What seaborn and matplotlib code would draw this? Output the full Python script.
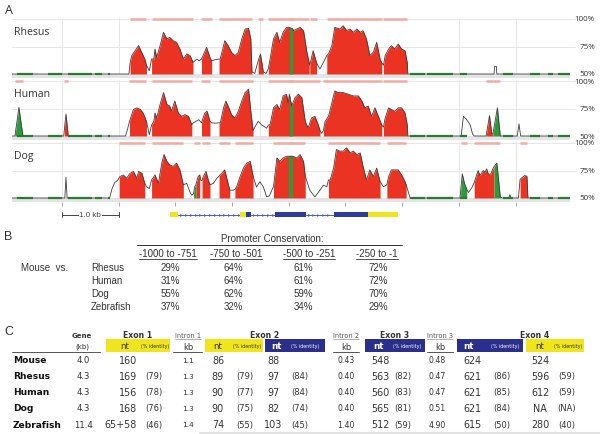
import numpy as np
import pandas as pd
import matplotlib
matplotlib.use("Agg")
import matplotlib.pyplot as plt
from matplotlib.patches import Rectangle
import seaborn as sns

sns.set_theme(style="white")
plt.rcParams['font.family'] = ['Open Sans', 'DejaVu Sans']

# ======================= DATA =======================
# Panel A: VISTA conservation profiles (position in kb, % identity)
species_a = ["Rhesus", "Human", "Dog"]

rhesus_profile = [
    (0.12, 50), (2.18, 50), (2.20, 60), (2.23, 66.7), (2.35, 75.8), (2.46, 63.6), (2.49, 58), (2.54, 53),
    (2.58, 63.6), (2.62, 63.6), (2.64, 72.7), (2.67, 65.2), (2.73, 75.8), (2.79, 87.9), (2.85, 81.8),
    (2.90, 83.3), (2.96, 80.3), (3.02, 78.8), (3.08, 72.7), (3.14, 63.6), (3.20, 68.2), (3.26, 66.7),
    (3.31, 60.6), (3.38, 63.6), (3.42, 62), (3.46, 63.6), (3.55, 74.2), (3.62, 63.6), (3.64, 62), (3.70, 63),
    (3.77, 63.6), (3.79, 63.6), (3.85, 75.8), (3.87, 80.3), (3.93, 75.8), (3.99, 69.7), (4.05, 66.7),
    (4.11, 69.7), (4.17, 81.8), (4.23, 90.9), (4.29, 91.5), (4.33, 81.8), (4.35, 52), (4.40, 50.5),
    (4.46, 62), (4.50, 68.2), (4.55, 52), (4.60, 50.5), (4.64, 55), (4.67, 63.6), (4.73, 81.8), (4.79, 87.9),
    (4.84, 78.8), (4.90, 87.9), (4.96, 92.4), (5.01, 92.4), (5.07, 91), (5.08, 89.4), (5.14, 90.9),
    (5.20, 92.4), (5.26, 89.4), (5.32, 69.7), (5.36, 60), (5.37, 58), (5.43, 71.2), (5.49, 60), (5.55, 54.5),
    (5.64, 63.6), (5.67, 66.7), (5.70, 68.2), (5.76, 75.8), (5.81, 92.4), (5.90, 90.9), (5.96, 93.9),
    (6.02, 89.4), (6.08, 90.9), (6.14, 87.9), (6.20, 90.9), (6.26, 87.9), (6.31, 89.4), (6.37, 81.8),
    (6.43, 66.7), (6.49, 69.7), (6.55, 78.8), (6.61, 63.6), (6.64, 60), (6.67, 58), (6.70, 66.7),
    (6.76, 72.7), (6.81, 75.8), (6.87, 72.7), (6.93, 77.3), (6.99, 72.7), (7.05, 71.2), (7.09, 60),
    (7.10, 50), (8.62, 50), (8.63, 57), (8.66, 57), (8.67, 50), (9.96, 50)]
rhesus_red = [(2.20, 2.49), (2.58, 3.31), (3.46, 3.64), (3.77, 4.35), (4.46, 4.55), (4.64, 5.36),
              (5.37, 5.49), (5.67, 6.64), (6.67, 7.09)]
rhesus_green = [(5.01, 5.07)]

human_profile = [
    (0.12, 50), (0.17, 50), (0.24, 76), (0.31, 50), (1.03, 50), (1.07, 70), (1.11, 50), (2.12, 50),
    (2.16, 57), (2.19, 63.3), (2.26, 74.1), (2.32, 75.6), (2.38, 74.1), (2.43, 71), (2.49, 63.3), (2.54, 51),
    (2.58, 60), (2.62, 63.3), (2.64, 71), (2.67, 66.4), (2.73, 78.7), (2.79, 89.5), (2.85, 78.7),
    (2.90, 77.2), (2.93, 72.5), (2.99, 81.8), (3.05, 71), (3.11, 67.9), (3.17, 69.4), (3.23, 67.9),
    (3.29, 60.2), (3.31, 61.7), (3.41, 64.8), (3.46, 62), (3.52, 71), (3.56, 72.5), (3.61, 63.3), (3.64, 62),
    (3.70, 61.7), (3.77, 62), (3.79, 61.7), (3.85, 75.6), (3.89, 81.8), (3.93, 77.2), (3.99, 69.4),
    (4.05, 66.4), (4.11, 72.5), (4.17, 81.8), (4.23, 89.5), (4.29, 92.6), (4.33, 72.5), (4.37, 55),
    (4.40, 58), (4.46, 63.3), (4.52, 60.2), (4.61, 57.1), (4.64, 60), (4.67, 60.2), (4.73, 75.6),
    (4.79, 78.7), (4.84, 74.1), (4.90, 86.4), (4.96, 88), (4.99, 80.2), (5.01, 88), (5.05, 77.2),
    (5.11, 84.9), (5.17, 88), (5.23, 84.9), (5.29, 63.3), (5.34, 57.1), (5.40, 66.4), (5.46, 67.9),
    (5.52, 60.2), (5.55, 55), (5.58, 52.5), (5.61, 55), (5.64, 63.3), (5.70, 67.9), (5.76, 80.2),
    (5.81, 91), (5.87, 89.5), (5.96, 89.5), (6.05, 88), (6.14, 86.4), (6.23, 86.4), (6.29, 81.8),
    (6.34, 75.6), (6.40, 77.2), (6.46, 67.9), (6.52, 75.6), (6.58, 67.9), (6.64, 60), (6.67, 58),
    (6.70, 66.4), (6.76, 75.6), (6.81, 74.1), (6.87, 72.5), (6.93, 75.6), (6.99, 75.6), (7.05, 71),
    (7.09, 60), (7.10, 50), (8.04, 50), (8.08, 67.9), (8.14, 64.8), (8.20, 60), (8.24, 52), (8.27, 50),
    (8.48, 50), (8.54, 68.5), (8.58, 52), (8.60, 52), (8.68, 75.6), (8.73, 50), (9.03, 50), (9.06, 61),
    (9.09, 50), (9.96, 50)]
human_red = [(1.04, 1.11), (2.19, 2.49), (2.58, 3.29), (3.46, 3.61), (3.77, 4.37), (4.64, 5.55),
             (5.61, 6.64), (6.67, 7.09), (8.48, 8.60)]
human_green = [(0.17, 0.31), (5.01, 5.07), (8.60, 8.73)]

dog_profile = [
    (0.12, 50), (1.05, 50), (1.07, 69), (1.09, 50), (1.84, 50), (1.88, 58), (1.93, 64), (1.98, 66),
    (2.02, 69.4), (2.08, 71), (2.14, 67.9), (2.20, 72.5), (2.26, 74.1), (2.32, 67.9), (2.35, 74.1),
    (2.41, 72.5), (2.46, 63.3), (2.49, 60.2), (2.54, 58.6), (2.58, 66.4), (2.64, 71), (2.70, 63.3),
    (2.76, 81.8), (2.80, 89.5), (2.85, 83.3), (2.90, 80.2), (2.96, 78.7), (3.02, 81.8), (3.08, 75.6),
    (3.14, 62), (3.20, 63.3), (3.26, 55), (3.29, 52.5), (3.32, 54), (3.34, 60.2), (3.36, 62), (3.40, 69.4),
    (3.43, 71), (3.45, 66), (3.47, 66), (3.49, 69.4), (3.54, 74.1), (3.58, 66.4), (3.61, 62), (3.67, 63.3),
    (3.73, 67.9), (3.77, 70), (3.82, 72.5), (3.87, 75.6), (3.93, 63.3), (3.96, 57.1), (4.02, 57.1),
    (4.05, 58), (4.08, 60.2), (4.14, 69.4), (4.20, 77.2), (4.26, 81.8), (4.32, 83.3), (4.37, 70),
    (4.43, 60), (4.49, 64.8), (4.55, 60.2), (4.61, 51), (4.66, 52), (4.70, 57), (4.73, 60.2), (4.79, 86.4),
    (4.84, 83.3), (4.90, 86.4), (4.96, 88), (5.01, 88), (5.07, 88), (5.14, 86.4), (5.20, 89.5),
    (5.26, 83.3), (5.29, 70), (5.37, 57.1), (5.46, 51), (5.55, 57.1), (5.61, 61.7), (5.67, 60.2),
    (5.70, 66.4), (5.73, 66.4), (5.79, 77.2), (5.84, 94.1), (5.90, 92.6), (5.96, 92.6), (6.02, 95.7),
    (6.08, 91), (6.14, 92.6), (6.20, 89.5), (6.26, 91), (6.31, 78.7), (6.37, 66.4), (6.43, 75.6),
    (6.49, 69.4), (6.55, 77.2), (6.61, 65), (6.67, 60.2), (6.73, 62), (6.76, 69.4), (6.81, 75.6),
    (6.87, 75.6), (6.93, 75.6), (6.99, 71), (7.05, 64.8), (7.07, 62), (7.14, 50), (8.02, 50), (8.06, 72),
    (8.10, 63), (8.14, 58), (8.17, 55), (8.23, 59.5), (8.27, 64), (8.28, 65.7), (8.34, 75), (8.37, 70.4),
    (8.43, 75), (8.46, 73.5), (8.49, 76.5), (8.52, 71.6), (8.56, 71.6), (8.61, 77.8), (8.67, 81.8),
    (8.73, 51), (8.76, 50), (8.88, 50), (8.90, 53), (8.92, 50), (9.05, 50), (9.08, 67), (9.12, 68.8),
    (9.16, 70.4), (9.20, 69.8), (9.21, 60), (9.22, 50), (9.96, 50)]
dog_red = [(2.01, 2.46), (2.58, 3.14), (3.36, 3.43), (3.47, 3.61), (3.77, 3.96), (4.05, 4.37),
           (4.73, 5.29), (5.70, 6.61), (6.73, 7.07), (8.27, 8.62), (9.08, 9.21)]
dog_green = [(3.32, 3.36), (5.01, 5.07), (8.03, 8.14), (8.62, 8.73)]

# low-identity exon segments shown on the 50% baseline
baseline_segments = [(0.21, 0.49), (0.75, 1.00), (1.11, 1.53), (1.58, 1.71), (1.81, 1.85),
                     (7.14, 7.40), (7.44, 7.90), (8.02, 8.14), (8.78, 8.95), (9.25, 9.43),
                     (9.57, 9.66), (9.75, 9.96)]

# gene model (kb)
utr_blocks = [(2.90, 3.05), (4.14, 4.24), (6.40, 6.93)]
cds_blocks = [(4.24, 4.33), (4.76, 5.30), (5.79, 6.40)]
intron_spans = [(3.05, 4.14), (4.33, 4.76), (5.30, 5.79)]

# Panel B: promoter conservation
promoter_bins = ["-1000 to -751", "-750 to -501", "-500 to -251", "-250 to -1"]
species_b = ["Rhesus", "Human", "Dog", "Zebrafish"]
rhesus_b = [29, 64, 61, 72]
human_b = [31, 64, 61, 72]
dog_b = [55, 62, 59, 70]
zebrafish_b = [37, 32, 34, 29]

# Panel C: gene structure table
species_c = ["Mouse", "Rhesus", "Human", "Dog", "Zebrafish"]
gene_kb = ["4.0", "4.3", "4.3", "4.3", "11.4"]
exon1_nt = ["160", "169", "156", "168", "65+58"]
exon1_id = ["", "(79)", "(78)", "(76)", "(46)"]
intron1_kb = ["1.1", "1.3", "1.3", "1.3", "1.4"]
exon2a_nt = ["86", "89", "90", "90", "74"]
exon2a_id = ["", "(79)", "(77)", "(75)", "(55)"]
exon2b_nt = ["88", "97", "97", "82", "103"]
exon2b_id = ["", "(84)", "(84)", "(74)", "(45)"]
intron2_kb = ["0.43", "0.40", "0.40", "0.40", "1.40"]
exon3_nt = ["548", "563", "560", "565", "512"]
exon3_id = ["", "(82)", "(83)", "(81)", "(59)"]
intron3_kb = ["0.48", "0.47", "0.47", "0.51", "4.90"]
exon4a_nt = ["624", "621", "621", "621", "615"]
exon4a_id = ["", "(86)", "(85)", "(84)", "(50)"]
exon4b_nt = ["524", "596", "612", "NA", "280"]
exon4b_id = ["", "(59)", "(59)", "(NA)", "(40)"]

# ======================= STYLE =======================
RED = "#ea3323"
GREEN = "#2f9a3c"
DGREEN = "#2a7a30"
PINK = "#f3aaa3"
BAND = "#e4e4e4"
GRID = "#e6e6e6"
YEL = "#f0e41c"
BLUE = "#2a2f8c"
TXT = "#333333"

W, H = 600, 435
fig = plt.figure(figsize=(W / 100, H / 100), dpi=100)


def rect(x0, y0, x1, y1):
    return [x0 / W, 1 - y1 / H, (x1 - x0) / W, (y1 - y0) / H]


KB0, KB1 = 0.118, 9.96
PX_L, PX_R = 12, 570
PXPCT = 1.1
tops = [20, 82, 144]
profiles = [rhesus_profile, human_profile, dog_profile]
reds = [rhesus_red, human_red, dog_red]
greens = [rhesus_green, human_green, dog_green]

for i, (name, prof, red, grn, top) in enumerate(zip(species_a, profiles, reds, greens, tops)):
    y0 = top - 2 * PXPCT
    y1 = top + 54 * PXPCT
    ax = fig.add_axes(rect(PX_L, y0, PX_R, y1))
    ax.set_xlim(KB0, KB1)
    ax.set_ylim(46, 102)
    df = pd.DataFrame(prof, columns=["kb", "pct"])
    xs_all = df["kb"].to_numpy()
    ys_all = df["pct"].to_numpy()

    # grid
    for g in [1, 2, 4.5, 8, 9]:
        ax.plot([g, g], [46.5, 101], color=GRID, lw=0.7, zorder=0)
    for lvl in (75, 100):
        ax.plot([KB0, 10.05], [lvl, lvl], color=GRID, lw=0.7, zorder=0, clip_on=False)
    ax.axhspan(46.6, 50, color=BAND, lw=0, zorder=0.5)

    def fill(intervals, color):
        for a, b in intervals:
            inner = xs_all[(xs_all > a) & (xs_all < b)]
            xs = np.concatenate([[a], inner, [b]])
            ys = np.interp(xs, xs_all, ys_all)
            ax.fill_between(xs, 50, ys, color=color, lw=0, zorder=2)

    fill(red, RED)
    fill(grn, GREEN)
    # conserved-region bars
    for a, b in sorted(red + grn):
        ax.plot([a, b], [100.3, 100.3], color=PINK, lw=1.8, solid_capstyle="butt", zorder=1)
    for a, b in baseline_segments:
        ax.plot([a, b], [50.4, 50.4], color=DGREEN, lw=1.6, solid_capstyle="butt", zorder=4)

    sns.lineplot(data=df, x="kb", y="pct", ax=ax, color="#3c3c3c", linewidth=0.6,
                 estimator=None, sort=False, legend=False, zorder=3)
    ax.set(xlabel="", ylabel="")
    ax.set_yticks([])
    for s in ax.spines.values():
        s.set_visible(False)
    if i == 2:
        ax.set_xticks(range(1, 10))
        ax.tick_params(axis="x", bottom=True, length=3, width=0.7, color="#aaaaaa",
                       labelbottom=False, direction="out", pad=0)
        ax.axhspan(46.0, 46.8, color="#c9c9c9", lw=0, zorder=0.6)
    else:
        ax.set_xticks([])
    ax.patch.set_alpha(0)
    ax.text(0.16, 88.5, name, ha="left", va="center", fontsize=7.6, color=TXT,
            family=["Open Sans", "DejaVu Sans"])
    for lvl in (100, 75, 50):
        ax.text(10.4, lvl, f"{lvl}%", ha="right", va="center", fontsize=5.8, color=TXT,
                family=["Open Sans", "DejaVu Sans"], clip_on=False)

# gene model + scale bar
gx = fig.add_axes(rect(PX_L, 209, PX_R, 222))
gx.set_xlim(KB0, KB1)
gx.set_ylim(-1, 1)
gx.axis("off")
for a, b in intron_spans:
    gx.plot([a, b], [0, 0], color="#4b5bd6", lw=0.7, zorder=1)
    ticks = np.arange(a + 0.05, b - 0.02, 0.085)
    gx.plot(ticks, np.zeros_like(ticks), ls="none", marker=">", ms=2.0, color="#4b5bd6",
            markeredgewidth=0, zorder=1)
for a, b in utr_blocks:
    gx.add_patch(Rectangle((a, -0.42), b - a, 0.84, color=YEL, lw=0, zorder=2))
for a, b in cds_blocks:
    gx.add_patch(Rectangle((a, -0.42), b - a, 0.84, color="#2c3c9c", lw=0, zorder=3))
gx.plot([1.0, 2.0], [0, 0], color="#444444", lw=0.7)
gx.plot([1.0, 1.0], [-0.35, 0.35], color="#444444", lw=0.7)
gx.plot([2.0, 2.0], [-0.35, 0.35], color="#444444", lw=0.7)
gx.text(1.5, 0, "1.0 kb", ha="center", va="center", fontsize=5.8, color="#444444",
        family=["Liberation Sans", "DejaVu Sans"],
        bbox=dict(facecolor="white", edgecolor="none", pad=0.6))

# ======================= TEXT PANELS =======================
tx = fig.add_axes([0, 0, 1, 1], zorder=5)
tx.set_xlim(0, W)
tx.set_ylim(H, 0)
tx.axis("off")
renderer = fig.canvas.get_renderer()


def underline(t, color=TXT, lw=0.6, pad=1.2):
    bb = t.get_window_extent(renderer)
    inv = tx.transData.inverted()
    (x0, ya), (x1, yb) = inv.transform([[bb.x0, bb.y0], [bb.x1, bb.y1]])
    yb_ = max(ya, yb) + pad
    tx.plot([x0, x1], [yb_, yb_], color=color, lw=lw)


ARIAL = ["Liberation Sans", "DejaVu Sans"]
VERD = ["DejaVu Sans"]

tx.text(8.5, 11, "A", ha="center", va="center", fontsize=9, color=TXT, family=["Open Sans", "DejaVu Sans"])
tx.text(8, 237.5, "B", ha="center", va="center", fontsize=9, color=TXT, family=ARIAL)
tx.text(8.5, 332, "C", ha="center", va="center", fontsize=9, color=TXT, family=ARIAL)

# Panel B
tx.text(272, 239, "Promoter Conservation:", ha="center", va="center", fontsize=7, color=TXT, family=ARIAL)
tx.plot([137, 402], [246, 246], color=TXT, lw=0.7)
col_b = [168, 236, 309, 377]
for xc, lab in zip(col_b, promoter_bins):
    t = tx.text(xc, 254, lab, ha="center", va="center", fontsize=7, color=TXT, family=ARIAL)
    underline(t, lw=0.6, pad=0.8)
tx.text(21, 268, "Mouse  vs.", ha="left", va="center", fontsize=7, color=TXT, family=ARIAL)
rows_b = [268, 281, 294.5, 307.5]
vals_b = [rhesus_b, human_b, dog_b, zebrafish_b]
valx_b = [170, 233, 303, 378]
for yr, sp, vals in zip(rows_b, species_b, vals_b):
    tx.text(91, yr, sp, ha="left", va="center", fontsize=7, color=TXT, family=ARIAL)
    for xc, v in zip(valx_b, vals):
        tx.text(xc, yr, f"{v}%", ha="center", va="center", fontsize=7, color=TXT, family=ARIAL)

# Panel C header
hy1, hy2 = 336, 346.5
tx.text(82, hy1, "Gene", ha="center", va="center", fontsize=5, fontweight="bold", color=TXT, family=VERD)
tx.text(82, hy2, "(kb)", ha="center", va="center", fontsize=5, color=TXT, family=VERD)
tx.plot([12, 100], [352.5, 352.5], color="#555555", lw=0.7)
for xc, lab in [(138, "Exon 1"), (265, "Exon 2"), (395, "Exon 3"), (535, "Exon 4")]:
    tx.text(xc, hy1, lab, ha="center", va="center", fontsize=5.6, fontweight="bold", color=TXT, family=VERD)
for xc, lab, span in [(188, "Intron 1", (173, 202)), (346, "Intron 2", (333, 359)), (440, "Intron 3", (427, 453))]:
    t = tx.text(xc, hy1, lab, ha="center", va="center", fontsize=4.8, color="#555555", family=VERD)
    underline(t, color="#777777", lw=0.4, pad=0.6)
    tx.text(xc, hy2 + 1, "kb", ha="center", va="center", fontsize=6, color=TXT, family=VERD)
    tx.plot(list(span), [352.5, 352.5], color="#555555", lw=0.7)

boxes = [((106, 170), YEL, 125, 155), ((205, 263), YEL, 218, 247), ((265, 325), BLUE, 276, 305),
         ((365, 425), BLUE, 378, 407), ((457, 523), BLUE, 469, 505), ((526, 584), YEL, 540, 568)]
for (bx0, bx1), col, ntx, idx in boxes:
    tx.add_patch(Rectangle((bx0, 340), bx1 - bx0, 12.5, color=col, lw=0))
    fc = "white" if col == BLUE else TXT
    tx.text(ntx, hy2 + 0.5, "nt", ha="center", va="center", fontsize=6.3,
            fontweight="bold" if col == BLUE else "normal", color=fc, family=VERD)
    tx.text(idx, hy2 + 0.5, "(% identity)", ha="center", va="center", fontsize=3.4, color=fc, family=VERD)

rows_c = [361, 377, 393, 409, 425.3]
for r, yr in enumerate(rows_c):
    tx.text(13, yr, species_c[r], ha="left", va="center", fontsize=6.6, fontweight="bold", color="#111111", family=VERD)
    tx.text(83, yr, gene_kb[r], ha="center", va="center", fontsize=6.1, color=TXT, family=VERD)
    tx.text(137, yr, exon1_nt[r], ha="right", va="center", fontsize=6.9, color=TXT, family=VERD)
    tx.text(145, yr, exon1_id[r], ha="left", va="center", fontsize=6.0, color=TXT, family=VERD)
    tx.text(188, yr, intron1_kb[r], ha="center", va="center", fontsize=5.4, color=TXT, family=VERD)
    tx.text(218, yr, exon2a_nt[r], ha="center", va="center", fontsize=6.9, color=TXT, family=VERD)
    tx.text(245, yr, exon2a_id[r], ha="center", va="center", fontsize=6.0, color=TXT, family=VERD)
    tx.text(273, yr, exon2b_nt[r], ha="center", va="center", fontsize=6.9, color=TXT, family=VERD)
    tx.text(300, yr, exon2b_id[r], ha="center", va="center", fontsize=6.0, color=TXT, family=VERD)
    tx.text(346, yr, intron2_kb[r], ha="center", va="center", fontsize=5.6, color=TXT, family=VERD)
    tx.text(380, yr, exon3_nt[r], ha="center", va="center", fontsize=6.9, color=TXT, family=VERD)
    tx.text(403, yr, exon3_id[r], ha="center", va="center", fontsize=6.0, color=TXT, family=VERD)
    tx.text(437, yr, intron3_kb[r], ha="center", va="center", fontsize=5.6, color=TXT, family=VERD)
    tx.text(472, yr, exon4a_nt[r], ha="center", va="center", fontsize=6.9, color=TXT, family=VERD)
    tx.text(502, yr, exon4a_id[r], ha="center", va="center", fontsize=6.0, color=TXT, family=VERD)
    tx.text(540, yr, exon4b_nt[r], ha="center", va="center", fontsize=6.9, color=TXT, family=VERD)
    tx.text(567, yr, exon4b_id[r], ha="center", va="center", fontsize=6.0, color=TXT, family=VERD)
tx.plot([200, 600], [433.5, 433.5], color="#e2e2e2", lw=1.5)

fig.savefig("out.png", dpi=100)
